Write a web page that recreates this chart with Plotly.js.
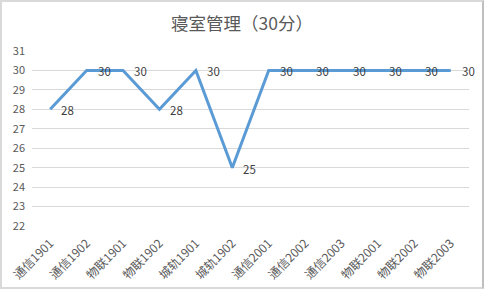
<!DOCTYPE html>
<html><head><meta charset="utf-8">
<script src="https://cdn.plot.ly/plotly-3.0.1.min.js"></script>
<style>
html,body{margin:0;padding:0;background:#fff;}
#wrap{width:484px;height:289px;box-sizing:border-box;border:2px solid #d9d9d9;border-right-color:#bfbfbf;overflow:hidden;}
#chart{width:480px;height:285px;}
</style></head>
<body><div id="wrap"><div id="chart"></div></div>
<script>
const categories = ["通信1901","通信1902","物联1901","物联1902","城轨1901","城轨1902","通信2001","通信2002","通信2003","物联2001","物联2002","物联2003"];
const scores = [28,30,30,28,30,25,30,30,30,30,30,30];
const yTicks = [22,23,24,25,26,27,28,29,30,31];
const titleText = "寝室管理（30分）";

const font = "'Noto Sans CJK SC', 'Microsoft YaHei', sans-serif";
const labels = categories.map((c, i) => ({
  x: c, y: scores[i], xref: "x", yref: "y", text: String(scores[i]),
  showarrow: false, xanchor: "left", yanchor: "middle", xshift: 9, yshift: -1,
  font: {family: font, size: 11.5, color: "#404040"}
}));
Plotly.newPlot("chart", [{
  x: categories, y: scores, type: "scatter", mode: "lines",
  line: {color: "#5b9bd5", width: 3},
  cliponaxis: false, hoverinfo: "none"
}], {
  width: 480, height: 285,
  margin: {l: 30, r: 13, t: 49, b: 61},
  paper_bgcolor: "#fff", plot_bgcolor: "#fff",
  showlegend: false,
  annotations: labels,
  title: {text: titleText, x: 0.5, xanchor: "center", y: 0.925, yanchor: "middle",
    font: {family: font, size: 17.5, color: "#595959"}},
  xaxis: {type: "category", tickangle: -45, showgrid: false, zeroline: false, showline: false,
    ticks: "", ticklabelstandoff: 7, tickfont: {family: font, size: 12, color: "#595959"}, range: [-0.5, 11.5]},
  yaxis: {range: [22, 31], tickvals: yTicks, showgrid: true, gridcolor: "#d9d9d9", gridwidth: 1,
    zeroline: false, showline: false, ticks: "", ticklabelstandoff: 6,
    tickfont: {family: font, size: 11, color: "#595959"}}
}, {staticPlot: true});
</script></body></html>
